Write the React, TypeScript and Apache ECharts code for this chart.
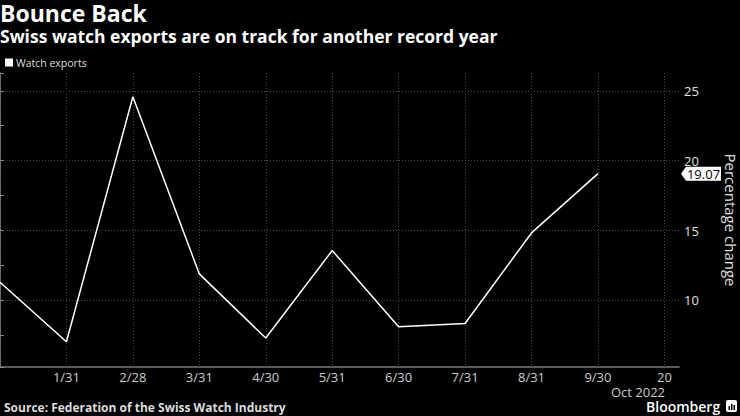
import React, { useEffect, useRef } from "react";
import * as echarts from "echarts";

// Month-end dates (12/31/2021 .. 9/30/2022) plus the Oct 20 edge tick
const categories = ["12/31", "1/31", "2/28", "3/31", "4/30", "5/31", "6/30", "7/31", "8/31", "9/30", "20"];
const tickLabels = ["", "1/31", "2/28", "3/31", "4/30", "5/31", "6/30", "7/31", "8/31", "9/30", "20"];
const watchExports = [11.3, 7.05, 24.57, 11.9, 7.31, 13.57, 8.12, 8.35, 14.83, 19.07];
const seriesName = "Watch exports";
const lastValue = 19.07;
const xMax = 10.22;
const yMin = 5.24;
const yMax = 26.27;

const FONT = "'Open Sans', 'Noto Sans', sans-serif";

export default function App() {
  const ref = useRef<HTMLDivElement>(null);

  useEffect(() => {
    if (!ref.current) return;
    document.body.style.margin = "0";
    document.body.style.background = "#000";
    const chart = echarts.init(ref.current, null, { renderer: "svg" });

    const seriesData = watchExports.map((v, i) => [i, v]);

    const option: any = {
      animation: false,
      backgroundColor: "#000",
      textStyle: { fontFamily: FONT },
      title: [
        {
          text: "Bounce Back",
          left: 0,
          top: 2,
          padding: 0,
          textStyle: { color: "#fff", fontSize: 23, lineHeight: 21, fontWeight: "bold", fontFamily: FONT },
        },
        {
          text: "Swiss watch exports are on track for another record year",
          left: 0,
          top: 28,
          padding: 0,
          textStyle: { color: "#fff", fontSize: 17.5, lineHeight: 16, fontWeight: "bold", fontFamily: FONT },
        },
      ],
      legend: {
        data: [seriesName],
        left: 5,
        top: 57,
        padding: 0,
        icon: "rect",
        itemWidth: 8,
        itemHeight: 8,
        textStyle: { color: "#ddd", fontSize: 10.5, fontFamily: FONT, padding: [0, 0, 0, -2] },
      },
      grid: {
        left: 0,
        right: 61,
        top: 73,
        bottom: 49,
        containLabel: false,
        outerBoundsMode: "none",
      },
      xAxis: {
        type: "value",
        min: 0,
        max: xMax,
        interval: 1,
        axisLine: { show: true, lineStyle: { color: "#7a7a7a", width: 1.5 } },
        axisTick: { show: false },
        axisLabel: {
          color: "#ccc",
          fontSize: 13,
          lineHeight: 13,
          fontFamily: FONT,
          margin: 3,
          showMaxLabel: false,
          formatter: (v: number) => (Number.isInteger(v) ? tickLabels[v] ?? "" : ""),
        },
        splitLine: {
          show: true,
          showMaxLine: false,
          lineStyle: { color: "#4d4d4d", type: [1, 2], width: 1 },
        },
      },
      yAxis: {
        type: "value",
        position: "right",
        min: yMin,
        max: yMax,
        name: "Percentage change",
        nameLocation: "middle",
        nameRotate: -90,
        nameGap: 44,
        nameTextStyle: { color: "#e0e0e0", fontSize: 15, fontFamily: FONT },
        axisLine: { show: true, lineStyle: { color: "#8a8a8a", width: 1.5 } },
        axisTick: { show: true, inside: false, length: 4, lineStyle: { color: "#8a8a8a" } },
        minorTick: { show: true, splitNumber: 2, length: 4, lineStyle: { color: "#8a8a8a" } },
        axisLabel: {
          color: "#e0e0e0",
          fontSize: 13,
          fontFamily: FONT,
          margin: 5,
          showMinLabel: false,
          showMaxLabel: false,
        },
        splitLine: {
          show: true,
          showMinLine: false,
          showMaxLine: false,
          lineStyle: { color: "#4d4d4d", type: [1, 2], width: 1 },
        },
      },
      series: [
        {
          name: seriesName,
          type: "line",
          data: seriesData,
          showSymbol: false,
          symbol: "none",
          lineStyle: { color: "#fff", width: 1.5 },
          itemStyle: { color: "#fff" },
          markPoint: {
            silent: true,
            symbol: "path://M0,7L5,0L40,0L40,14L5,14Z",
            symbolSize: [40, 14],
            symbolKeepAspect: false,
            symbolOffset: [22, 0],
            itemStyle: { color: "#fff" },
            label: {
              show: true,
              position: "inside",
              offset: [2.5, 0],
              color: "#000",
              fontSize: 13,
              fontFamily: FONT,
              formatter: () => lastValue.toFixed(2),
            },
            data: [{ coord: [xMax, lastValue], value: lastValue }],
          },
        },
      ],
      graphic: [
        {
          type: "text",
          right: 740 - 665,
          top: 385,
          style: {
            text: "Oct 2022",
            fill: "#ccc",
            fontSize: 13,
            lineHeight: 13,
            fontFamily: FONT,
            align: "right",
          },
        },
        {
          type: "text",
          left: 4,
          top: 401,
          style: {
            text: "Source: Federation of the Swiss Watch Industry",
            fill: "#ddd",
            fontSize: 12,
            lineHeight: 12,
            fontWeight: "bold",
            fontFamily: FONT,
          },
        },
        {
          type: "text",
          left: 646,
          top: 399,
          style: {
            text: "Bloomberg",
            fill: "#fff",
            fontSize: 14,
            lineHeight: 14,
            fontWeight: 600,
            fontFamily: FONT,
          },
        },
        {
          type: "group",
          left: 726,
          top: 400,
          children: [
            { type: "rect", shape: { x: 0, y: 0, width: 11, height: 12, r: 2 }, style: { fill: "#fff" } },
            { type: "rect", shape: { x: 2.5, y: 6, width: 1.5, height: 4 }, style: { fill: "#000" } },
            { type: "rect", shape: { x: 5, y: 4, width: 1.5, height: 6 }, style: { fill: "#000" } },
            { type: "rect", shape: { x: 7.5, y: 5, width: 1.5, height: 5 }, style: { fill: "#000" } },
          ],
        },
      ],
    };

    chart.setOption(option);
    return () => chart.dispose();
  }, []);

  return (
    <div
      ref={ref}
      data-categories={categories.join(",")}
      style={{ position: "absolute", left: 0, top: 0, width: 740, height: 416, background: "#000" }}
    />
  );
}
